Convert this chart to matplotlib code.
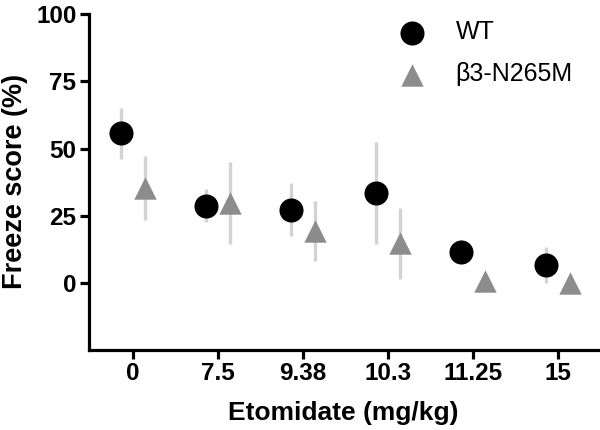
import matplotlib
matplotlib.use("Agg")
import matplotlib.pyplot as plt
import numpy as np

doses = ["0", "7.5", "9.38", "10.3", "11.25", "15"]
wt_mean = [55.8, 28.8, 27.3, 33.5, 11.6, 6.5]
wt_err = [9.5, 6.0, 10.0, 19.0, 4.2, 6.7]
mut_mean = [35.3, 29.7, 19.3, 14.7, 0.6, 0.0]
mut_err = [11.8, 15.3, 11.2, 13.3, 0.0, 0.0]
series_names = ["WT", "β3-N265M"]
y_ticks = [0, 25, 50, 75, 100]

plt.rcParams['font.family'] = ['Liberation Sans', 'DejaVu Sans']

fig = plt.figure(figsize=(6, 4.3), dpi=100)
ax = fig.add_axes([89/600, (430-350)/430, (598-89)/600, (350-13)/430])

x = np.arange(len(doses))
off = 0.145
errc = "#d3d3d3"
ax.errorbar(x - off, wt_mean, yerr=wt_err, fmt='none', ecolor=errc, elinewidth=2.4, capsize=0, zorder=1)
ax.errorbar(x + off, mut_mean, yerr=mut_err, fmt='none', ecolor=errc, elinewidth=2.4, capsize=0, zorder=1)
h1 = ax.scatter(x - off, wt_mean, s=300, marker='o', color='black', zorder=3, label=series_names[0], linewidths=0)
h2 = ax.scatter(x + off, mut_mean, s=260, marker='^', color='#8c8c8c', zorder=3, label=series_names[1], linewidths=0)

ax.set_xlim(-0.518, 5.47)
ax.set_ylim(-25, 100.5)
ax.set_xticks(x)
ax.set_xticklabels(doses)
ax.set_yticks(y_ticks)

for s in ['top', 'right']:
    ax.spines[s].set_visible(False)
for s in ['left', 'bottom']:
    ax.spines[s].set_linewidth(2.3)
ax.spines['left'].set_bounds(-25, 100)
ax.tick_params(axis='both', width=2.3, length=6.5, direction='out', labelsize=17.5, pad=2.5)
for lab in ax.get_xticklabels() + ax.get_yticklabels():
    lab.set_fontweight('bold')

ax.set_xlabel("Etomidate (mg/kg)", fontsize=19, fontweight='bold', labelpad=11)
ax.set_ylabel("Freeze score (%)", fontsize=19.5, fontweight='bold', labelpad=6)

leg = ax.legend(handles=[h1, h2], loc='upper left', bbox_to_anchor=(0.541, 1.045), frameon=False,
                fontsize=18, handletextpad=0.75, labelspacing=0.72, scatterpoints=1)

fig.savefig("out.png", dpi=100)
